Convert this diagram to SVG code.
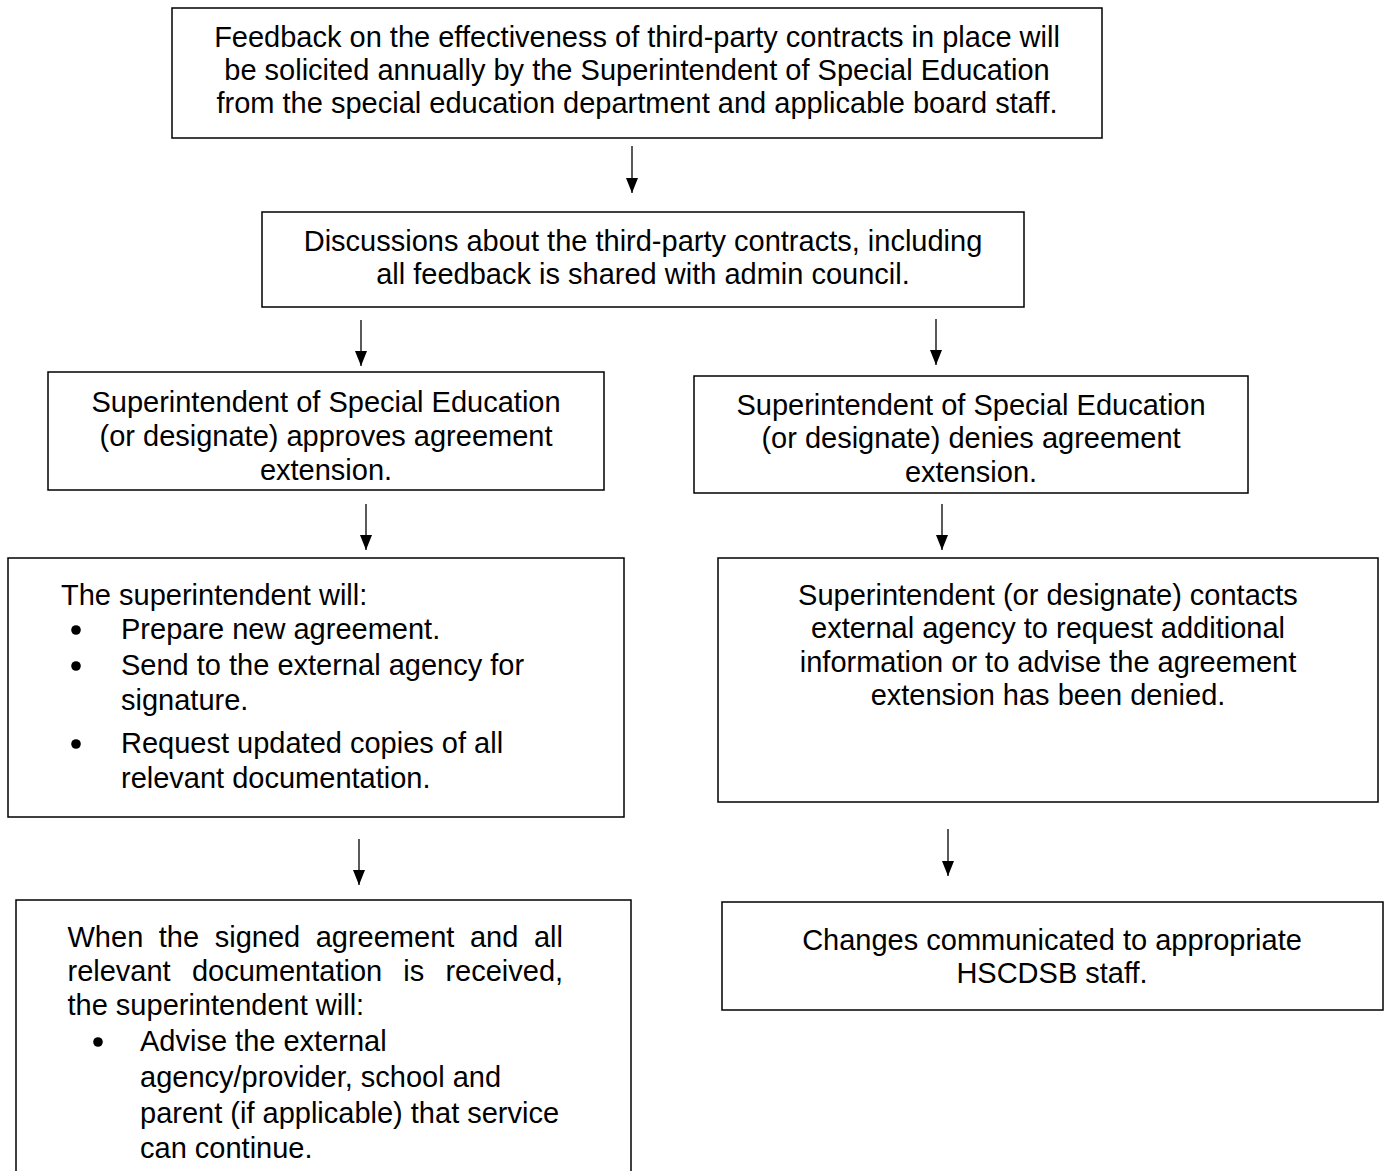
<svg xmlns="http://www.w3.org/2000/svg" width="1385" height="1171" viewBox="0 0 1385 1171">
<style>
.box{fill:#fff;stroke:#000;stroke-width:1.5}
.t{font-family:"Liberation Sans",Arial,sans-serif;font-size:29px;fill:#000}
.c{text-anchor:middle}
.dot{fill:#000}
.conn{stroke:#000;stroke-width:1.3;fill:none}
</style>
<defs>
<marker id="ah" viewBox="0 0 15 12" refX="15" refY="6" markerWidth="15" markerHeight="12" markerUnits="userSpaceOnUse" orient="auto">
<path d="M0,0 L15,6 L0,12 z" fill="#000"/>
</marker>
</defs>
<rect width="1385" height="1171" fill="#fff"/>
<g id="connectors">
<line class="conn" x1="632" y1="146" x2="632" y2="193" marker-end="url(#ah)"/>
<line class="conn" x1="361" y1="320" x2="361" y2="366" marker-end="url(#ah)"/>
<line class="conn" x1="936" y1="319" x2="936" y2="365" marker-end="url(#ah)"/>
<line class="conn" x1="366" y1="504" x2="366" y2="550" marker-end="url(#ah)"/>
<line class="conn" x1="942" y1="504" x2="942" y2="550" marker-end="url(#ah)"/>
<line class="conn" x1="359" y1="839" x2="359" y2="885" marker-end="url(#ah)"/>
<line class="conn" x1="948" y1="829" x2="948" y2="876" marker-end="url(#ah)"/>
</g>
<g id="n1">
<rect class="box" x="172" y="8" width="930" height="130"/>
<text class="t c" x="637" y="47">Feedback on the effectiveness of third-party contracts in place will</text>
<text class="t c" x="637" y="80">be solicited annually by the Superintendent of Special Education</text>
<text class="t c" x="637" y="113">from the special education department and applicable board staff.</text>
</g>
<g id="n2">
<rect class="box" x="262" y="212" width="762" height="95"/>
<text class="t c" x="643" y="251">Discussions about the third-party contracts, including</text>
<text class="t c" x="643" y="284">all feedback is shared with admin council.</text>
</g>
<g id="n3">
<rect class="box" x="48" y="372" width="556" height="118"/>
<text class="t c" x="326" y="412">Superintendent of Special Education</text>
<text class="t c" x="326" y="446">(or designate) approves agreement</text>
<text class="t c" x="326" y="480">extension.</text>
</g>
<g id="n4">
<rect class="box" x="694" y="376" width="554" height="117"/>
<text class="t c" x="971" y="415">Superintendent of Special Education</text>
<text class="t c" x="971" y="448">(or designate) denies agreement</text>
<text class="t c" x="971" y="482">extension.</text>
</g>
<g id="n5">
<rect class="box" x="8" y="558" width="616" height="259"/>
<text class="t" x="61" y="605">The superintendent will:</text>
<circle class="dot" cx="76" cy="630" r="4.8"/>
<text class="t" x="121" y="639">Prepare new agreement.</text>
<circle class="dot" cx="76" cy="666" r="4.8"/>
<text class="t" x="121" y="675">Send to the external agency for</text>
<text class="t" x="121" y="710">signature.</text>
<circle class="dot" cx="76" cy="744" r="4.8"/>
<text class="t" x="121" y="753">Request updated copies of all</text>
<text class="t" x="121" y="788">relevant documentation.</text>
</g>
<g id="n6">
<rect class="box" x="718" y="558" width="660" height="244"/>
<text class="t c" x="1048" y="605">Superintendent (or designate) contacts</text>
<text class="t c" x="1048" y="638">external agency to request additional</text>
<text class="t c" x="1048" y="672">information or to advise the agreement</text>
<text class="t c" x="1048" y="705">extension has been denied.</text>
</g>
<g id="n7">
<rect class="box" x="16" y="900" width="615" height="290"/>
<text class="t" y="947"><tspan x="67.5">When</tspan><tspan x="158.8">the</tspan><tspan x="214.7">signed</tspan><tspan x="315.7">agreement</tspan><tspan x="469.9">and</tspan><tspan x="533.9">all</tspan></text>
<text class="t" y="981"><tspan x="67.5">relevant</tspan><tspan x="191.9">documentation</tspan><tspan x="403.3">is</tspan><tspan x="445.4">received,</tspan></text>
<text class="t" x="67.5" y="1015">the superintendent will:</text>
<circle class="dot" cx="98" cy="1042" r="4.8"/>
<text class="t" x="140" y="1051">Advise the external</text>
<text class="t" x="140" y="1087">agency/provider, school and</text>
<text class="t" x="140" y="1123">parent (if applicable) that service</text>
<text class="t" x="140" y="1158">can continue.</text>
</g>
<g id="n8">
<rect class="box" x="722" y="902" width="661" height="108"/>
<text class="t c" x="1052" y="950">Changes communicated to appropriate</text>
<text class="t c" x="1052" y="983">HSCDSB staff.</text>
</g>
</svg>
